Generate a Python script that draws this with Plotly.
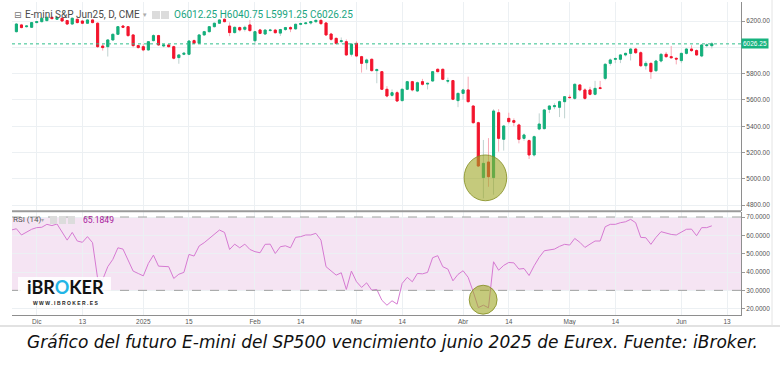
import plotly.graph_objects as go
import pandas as pd

# ---------------- data ----------------
holidays = ["2024-12-25", "2025-01-01", "2025-04-18"]
sessions = [d.strftime("%Y-%m-%d") for d in pd.bdate_range("2024-11-25", "2025-06-20")
            if d.strftime("%Y-%m-%d") not in holidays]

candle_dates = sessions[1:139]
rsi_dates = sessions[0:139]

opens = [6119,6170,6157,6152,6188,6195,6203,6228,6213,6221,
         6203,6177,6213,6200,6183,6208,6183,6010,6005,6056,
         6099,6162,6157,6094,6013,6005,5980,6051,6089,6010,
         6018,6005,5922,5947,5947,6051,6031,6094,6119,6157,
         6183,6213,6162,6112,6150,6137,6170,6050,6132,6101,
         6128,6131,6108,6135,6150,6140,6175,6180,6185,6195,
         6205,6185,6101,6068,6045,6043,5947,6030,5929,5883,
         5909,5823,5815,5681,5635,5655,5595,5681,5739,5668,
         5739,5721,5744,5833,5833,5743,5747,5595,5650,5676,
         5554,5427,5010,5128,5010,5503,5301,5460,5443,5410,
         5308,5291,5182,5379,5382,5529,5549,5544,5587,5620,
         5612,5714,5676,5676,5643,5692,5764,5878,5909,5909,
         5942,5954,5987,5959,5860,5878,5822,5896,5947,5929,
         5916,5899,5954,5987,5975,5934,6013,6012.25]
highs = [6185,6178,6168,6193,6200,6228,6235,6235,6236,6226,
         6208,6226,6220,6205,6215,6213,6192,6025,6062,6105,
         6162,6168,6160,6100,6020,6025,6048,6100,6095,6025,
         6022,6012,5948,5960,6055,6060,6100,6125,6162,6188,
         6213,6220,6190,6158,6158,6165,6208,6125,6140,6137,
         6140,6140,6140,6155,6160,6180,6188,6190,6200,6212,
         6212,6192,6110,6075,6075,6060,6030,6045,5935,5915,
         5915,5840,5820,5705,5680,5670,5688,5745,5745,5740,
         5760,5730,5820,5840,5838,5770,5752,5655,5685,5777,
         5560,5435,5296,5310,5530,5530,5410,5503,5460,5420,
         5345,5300,5330,5498,5530,5560,5575,5595,5630,5640,
         5725,5720,5690,5700,5745,5745,5880,5915,5925,5948,
         5960,5995,5995,5970,5895,5885,5905,5955,5965,6010,
         5925,5960,5995,6015,5985,6025,6030,6040.75]
lows = [6112,6145,6150,6147,6183,6190,6198,6212,6208,6195,
        6170,6172,6182,6176,6178,6182,5995,5975,5930,6050,
        6095,6146,6080,6000,5990,5970,5975,6045,6010,6000,
        5998,5908,5875,5940,5940,6025,6025,6090,6112,6150,
        6178,6190,6085,6105,6120,6120,6120,6018,6100,6095,
        6118,6105,6086,6125,6115,6135,6168,6175,6172,6185,
        6170,6088,6050,6020,6030,5935,5930,5925,5808,5830,
        5815,5727,5675,5620,5625,5585,5588,5675,5665,5660,
        5710,5680,5740,5810,5750,5725,5598,5545,5600,5580,
        5420,5090,4852,4940,4880,5207,5215,5420,5400,5270,
        5290,5151,5170,5370,5375,5500,5530,5470,5460,5610,
        5600,5665,5600,5635,5635,5680,5750,5860,5880,5880,
        5930,5900,5950,5850,5830,5760,5815,5885,5920,5915,
        5870,5880,5945,5965,5935,5925,6000,5991.25]
closes = [6177,6150,6162,6188,6195,6221,6228,6218,6228,6200,
          6177,6221,6188,6183,6208,6188,6005,5998,6056,6099,
          6157,6152,6089,6013,5998,5980,6043,6089,6018,6018,
          6005,5917,5942,5955,6048,6031,6094,6119,6157,6183,
          6208,6195,6112,6152,6132,6152,6127,6119,6106,6131,
          6131,6111,6135,6150,6140,6175,6180,6185,6195,6205,
          6180,6094,6061,6030,6049,5942,6025,5934,5878,5904,
          5823,5830,5681,5630,5655,5592,5681,5739,5676,5731,
          5719,5726,5815,5815,5757,5747,5605,5650,5676,5587,
          5427,5098,5118,5017,5516,5308,5402,5435,5430,5301,
          5334,5182,5321,5417,5524,5554,5556,5587,5625,5618,
          5719,5676,5612,5643,5688,5688,5871,5904,5914,5942,
          5954,5987,5959,5860,5878,5815,5896,5947,5929,5921,
          5911,5954,5987,5975,5942,6018,6018,6026.25]
rsi = [62.9, 63.6, 60.2, 61.6, 63.3, 64.2, 64.4, 66.0, 65.3, 66.2,
       61.6, 57.4, 61.6, 56.9, 56.2, 59.3, 56.0, 36.5, 35.9, 42.9,
       46.9, 53.2, 52.5, 46.5, 40.5, 39.2, 37.9, 44.7, 49.2, 43.2,
       43.2, 42.9, 36.5, 38.8, 39.8, 49.6, 48.7, 54.2, 56.0, 58.2,
       60.3, 62.9, 61.6, 52.3, 55.2, 53.2, 55.2, 52.3, 51.1, 50.5,
       55.1, 55.2, 50.1, 53.8, 54.3, 53.2, 58.9, 59.3, 60.2, 60.2,
       61.1, 57.4, 42.9, 40.7, 38.3, 39.6, 30.5, 40.5, 34.7, 31.6,
       34.1, 30.1, 30.5, 24.6, 21.9, 24.3, 22.5, 33.8, 37.1, 34.7,
       39.2, 39.0, 39.8, 47.8, 48.9, 42.9, 41.6, 35.2, 38.7, 40.7,
       37.1, 29.2, 20.6, 21.9, 20.5, 45.6, 41.0, 43.6, 45.2, 45.0,
       41.6, 41.9, 38.1, 43.4, 48.0, 51.6, 52.0, 52.5, 54.0, 55.1,
       54.7, 58.3, 56.2, 53.4, 55.2, 56.9, 56.9, 64.7, 66.0, 66.0,
       66.9, 67.4, 68.7, 66.9, 58.9, 58.7, 55.1, 58.9, 62.0, 61.1,
       60.5, 60.2, 61.6, 63.3, 63.4, 59.8, 64.2, 64.2, 65.1849]

tick_dates = ["2024-12-02", "2024-12-13", "2025-01-02", "2025-01-15", "2025-02-03",
              "2025-02-14", "2025-03-03", "2025-03-14", "2025-04-01", "2025-04-14",
              "2025-05-01", "2025-05-14", "2025-06-02", "2025-06-13"]
tick_text = ["Dic", "13", "2025", "15", "Feb", "14", "Mar", "14", "Abr", "14",
             "May", "14", "Jun", "13"]
price_ticks = [4800, 5000, 5200, 5400, 5600, 5800, 6000, 6200]
rsi_ticks = [20, 30, 40, 50, 60, 70]

last_price = closes[-1]
last_rsi = rsi[-1]

# the 6000.00 label sits under the last-price marker in the reference
price_ticktext = ["" if abs(v - last_price) < 60 else "%.2f" % v for v in price_ticks]

# ---------------- styling ----------------
GREEN = "#13b07b"
RED = "#f3152d"
GREEN_WICK = "#bfd2d0"
RED_WICK = "#f7aab6"
GRID = "#ecf0f3"
AXIS = "#8e8e8e"
TICKFONT = dict(family="Liberation Sans", size=6.5, color="#555555")

body_hi = [max(o, c) for o, c in zip(opens, closes)]
body_lo = [min(o, c) for o, c in zip(opens, closes)]

fig = go.Figure()
# wicks
fig.add_trace(go.Candlestick(
    x=candle_dates, open=opens, high=highs, low=lows, close=closes,
    increasing=dict(line=dict(color=GREEN_WICK, width=1), fillcolor="rgba(0,0,0,0)"),
    decreasing=dict(line=dict(color=RED_WICK, width=1), fillcolor="rgba(0,0,0,0)"),
    xaxis="x", yaxis="y", hoverinfo="skip"))
# bodies
fig.add_trace(go.Candlestick(
    x=candle_dates, open=opens, high=body_hi, low=body_lo, close=closes,
    increasing=dict(line=dict(color=GREEN, width=1), fillcolor=GREEN),
    decreasing=dict(line=dict(color=RED, width=1), fillcolor=RED),
    xaxis="x", yaxis="y"))
# RSI
fig.add_trace(go.Scatter(x=rsi_dates, y=rsi, mode="lines",
                         line=dict(color="#d67ad2", width=1), xaxis="x", yaxis="y2"))

# geometry helpers (paper coords; plot area 12..741 x 2..315 px)
def px(xp):
    return (xp - 12) / 729.0

def py(yp):
    return (315 - yp) / 313.0

shapes = [
    dict(type="rect", xref="paper", yref="y2", x0=0, x1=1, y0=30, y1=70,
         fillcolor="#f5e4f3", line=dict(width=0), layer="below"),
    dict(type="line", xref="paper", yref="y2", x0=0, x1=1, y0=70, y1=70,
         line=dict(color="#a0a0a0", width=1, dash="dash")),
    dict(type="line", xref="paper", yref="y2", x0=0, x1=1, y0=30, y1=30,
         line=dict(color="#a0a0a0", width=1, dash="dash")),
    dict(type="line", xref="paper", yref="paper", x0=0, x1=1, y0=py(211.3), y1=py(211.3),
         line=dict(color="#9a9a9a", width=2)),
    dict(type="line", xref="paper", yref="y", x0=0, x1=1, y0=last_price, y1=last_price,
         line=dict(color="#2fbf8c", width=1, dash="dot")),
    # screenshot border
    dict(type="rect", xref="paper", yref="paper", x0=px(0), x1=px(780), y0=py(327), y1=py(325),
         fillcolor="#e2e2e2", line=dict(width=0)),
    dict(type="line", xref="paper", yref="paper", x0=px(772), x1=px(772), y0=py(326), y1=py(0),
         line=dict(color="#e4e4e4", width=1)),
    # header icons
    dict(type="rect", xref="paper", yref="paper", x0=px(152), x1=px(160), y0=py(19), y1=py(11),
         fillcolor="#dcdcdc", line=dict(width=0)),
    dict(type="rect", xref="paper", yref="paper", x0=px(161), x1=px(169), y0=py(19), y1=py(11),
         fillcolor="#dcdcdc", line=dict(width=0)),
    dict(type="rect", xref="paper", yref="paper", x0=px(50), x1=px(57), y0=py(224), y1=py(216),
         fillcolor="#dcdcdc", line=dict(width=0)),
    dict(type="rect", xref="paper", yref="paper", x0=px(59), x1=px(66), y0=py(224), y1=py(216),
         fillcolor="#dcdcdc", line=dict(width=0)),
    dict(type="rect", xref="paper", yref="paper", x0=px(68), x1=px(75), y0=py(224), y1=py(216),
         fillcolor="#dcdcdc", line=dict(width=0)),
    # logo box
    dict(type="rect", xref="paper", yref="paper", x0=px(18), x1=px(111), y0=py(305), y1=py(277),
         fillcolor="rgba(255,255,255,0.88)", line=dict(width=0)),
]

# highlight ellipses around the April low (category index of 2025-04-08)
k = sessions.index("2025-04-08")
shapes.append(dict(type="circle", xref="x", yref="y", x0=k - 4.8, x1=k + 3.6, y0=4834, y1=5182,
                   fillcolor="rgba(158,166,36,0.6)", line=dict(color="rgba(130,140,30,0.8)", width=1)))
shapes.append(dict(type="circle", xref="x", yref="y2", x0=k - 3.8, x1=k + 1.7, y0=17, y1=32.8,
                   fillcolor="rgba(158,166,36,0.6)", line=dict(color="rgba(130,140,30,0.8)", width=1)))

annotations = [
    dict(xref="paper", yref="paper", x=px(12), y=py(15), xanchor="left", yanchor="middle",
         text="⊟", showarrow=False, font=dict(family="DejaVu Sans", size=9, color="#777777")),
    dict(xref="paper", yref="paper", x=px(23), y=py(15), xanchor="left", yanchor="middle",
         text="E-mini S&P Jun25, D, CME", showarrow=False,
         font=dict(family="Roboto", size=10, color="#4a4a4a")),
    dict(xref="paper", yref="paper", x=px(141), y=py(15), xanchor="left", yanchor="middle",
         text="▾", showarrow=False, font=dict(family="DejaVu Sans", size=7, color="#aaaaaa")),
    dict(xref="paper", yref="paper", x=px(172), y=py(15), xanchor="left", yanchor="middle",
         text="O%.2f H%.2f L%.2f C%.2f" % (opens[-1], highs[-1], lows[-1], closes[-1]),
         showarrow=False, font=dict(family="Roboto", size=10, color="#1aa57f")),
    dict(xref="paper", yref="paper", x=px(11), y=py(220), xanchor="left", yanchor="middle",
         text="RSI (14)", showarrow=False, font=dict(family="Roboto", size=8, color="#555555")),
    dict(xref="paper", yref="paper", x=px(39), y=py(220), xanchor="left", yanchor="middle",
         text="▾", showarrow=False, font=dict(family="DejaVu Sans", size=6, color="#aaaaaa")),
    dict(xref="paper", yref="paper", x=px(81), y=py(220), xanchor="left", yanchor="middle",
         text="%.4f" % last_rsi, showarrow=False,
         font=dict(family="Roboto", size=8.5, color="#a8209c")),
    dict(xref="paper", yref="y", x=1, y=last_price, xanchor="left", yanchor="middle",
         text="%.2f" % last_price, showarrow=False, bgcolor="#17b37f", borderpad=1,
         font=dict(family="Liberation Sans", size=6.5, color="white")),
    dict(xref="paper", yref="paper", x=px(65), y=py(299), xanchor="center", yanchor="bottom",
         text="<b>iBR<span style='color:#22b5e6'>O</span>KER</b>", showarrow=False, borderpad=0,
         font=dict(family="Lato", size=18, color="#111111")),
    dict(xref="paper", yref="paper", x=px(65), y=py(299), xanchor="center", yanchor="top",
         text="<b>W W W . I B R O K E R . E S</b>", showarrow=False, borderpad=0,
         font=dict(family="Liberation Sans", size=5, color="#222222")),
    dict(xref="paper", yref="paper", x=px(392), y=py(342), xanchor="center", yanchor="middle",
         text="<i>Gráfico del futuro E-mini del SP500 vencimiento junio 2025 de Eurex. Fuente: iBroker.</i>",
         showarrow=False, font=dict(family="DejaVu Sans", size=17, color="#111111")),
]

fig.update_layout(
    width=780, height=372,
    margin=dict(l=12, r=39, t=2, b=57),
    paper_bgcolor="white", plot_bgcolor="white",
    showlegend=False, boxgap=0.42,
    xaxis=dict(type="category", categoryorder="array", categoryarray=sessions,
               range=[0.133, 143.75], tickvals=tick_dates, ticktext=tick_text,
               showgrid=True, gridcolor=GRID, gridwidth=1, anchor="y2",
               showline=True, linecolor=AXIS, linewidth=1, ticks="", tickfont=TICKFONT,
               rangeslider=dict(visible=False), zeroline=False),
    yaxis=dict(domain=[py(211), 1], side="right", range=[4756, 6344.4], anchor="x",
               tickvals=price_ticks, ticktext=price_ticktext, showgrid=True, gridcolor=GRID,
               showline=True, linecolor=AXIS, linewidth=1, ticks="outside", ticklen=3,
               tickcolor="#9a9a9a", tickfont=TICKFONT, zeroline=False),
    yaxis2=dict(domain=[0, py(212)], side="right", range=[16.56, 72.73], anchor="x",
                tickvals=rsi_ticks, tickformat=".4f", showgrid=True, gridcolor=GRID,
                showline=True, linecolor=AXIS, linewidth=1, ticks="outside", ticklen=3,
                tickcolor="#9a9a9a", tickfont=TICKFONT, zeroline=False),
    shapes=shapes, annotations=annotations,
)

fig.write_html("out.html")
